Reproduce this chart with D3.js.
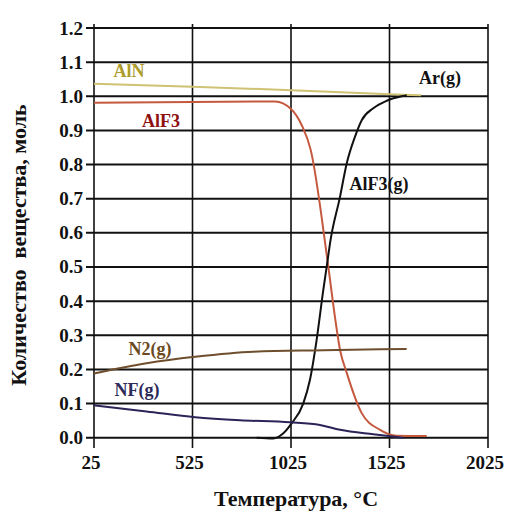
<!DOCTYPE html>
<html>
<head>
<meta charset="utf-8">
<script src="https://cdn.jsdelivr.net/npm/d3@7"></script>
<style>
  body { margin: 0; background: #fff; }
</style>
</head>
<body>
<div id="chart"></div>
<script>
// temperatures (°C) and amounts (mol)
var alnT = [25, 525, 1025, 1525, 1685];
var alnV = [1.037, 1.028, 1.018, 1.006, 1.003];

var alf3T = [25, 944, 1025, 1079, 1125, 1210, 1248, 1274, 1308, 1384, 1477, 1561, 1714];
var alf3V = [0.981, 0.985, 0.963, 0.916, 0.843, 0.52, 0.354, 0.257, 0.19, 0.072, 0.023, 0.006, 0.005];

var alf3gT = [851, 935, 986, 1028, 1087, 1121, 1155, 1189, 1211, 1223, 1274, 1308, 1350, 1384, 1443, 1511, 1595, 1612];
var alf3gV = [0.0, -0.002, 0.013, 0.042, 0.1, 0.169, 0.286, 0.433, 0.52, 0.569, 0.706, 0.804, 0.882, 0.93, 0.965, 0.987, 1.001, 1.003];

var n2T = [25, 292, 538, 834, 1188, 1612];
var n2V = [0.188, 0.218, 0.237, 0.252, 0.256, 0.26];

var nfT = [25, 292, 538, 766, 1020, 1172, 1274, 1443, 1595];
var nfV = [0.095, 0.077, 0.06, 0.051, 0.045, 0.037, 0.023, 0.01, 0.0];

var xTicks = [25, 525, 1025, 1525, 2025];
var yTicks = [0, 0.1, 0.2, 0.3, 0.4, 0.5, 0.6, 0.7, 0.8, 0.9, 1.0, 1.1, 1.2];

var series = [
  { name: "AlN", t: alnT, v: alnV, color: "#cfc273", label: "#ad9c2c", lx: 129, ly: 77 },
  { name: "AlF3", t: alf3T, v: alf3V, color: "#c4593e", label: "#8e1010", lx: 161, ly: 127 },
  { name: "AlF3(g)", t: alf3gT, v: alf3gV, color: "#111", label: "#111", lx: 379, ly: 190 },
  { name: "N2(g)", t: n2T, v: n2V, color: "#6e4e2c", label: "#6b4a22", lx: 150, ly: 355 },
  { name: "NF(g)", t: nfT, v: nfV, color: "#2c2358", label: "#2c2a58", lx: 137, ly: 396 }
];

var FONT = "'Liberation Serif', 'Times New Roman', Times, serif";
var W = 505, H = 511;
var svg = d3.select("#chart").append("svg")
  .attr("width", W)
  .attr("height", H)
  .attr("font-family", FONT)
  .attr("font-weight", "bold");

var x = d3.scaleLinear().domain([25, 2025]).range([94, 488]);
var y = d3.scaleLinear().domain([0, 1.2]).range([437.7, 28]);

// grid
svg.append("g").selectAll("line")
  .data(yTicks)
  .enter().append("line")
  .attr("x1", 86).attr("x2", x(2025))
  .attr("y1", function(d) { return y(d); })
  .attr("y2", function(d) { return y(d); })
  .attr("stroke", "#111")
  .attr("stroke-width", 2);

svg.append("g").selectAll("line")
  .data(xTicks)
  .enter().append("line")
  .attr("x1", function(d) { return x(d); })
  .attr("x2", function(d) { return x(d); })
  .attr("y1", 24).attr("y2", 448)
  .attr("stroke", "#111")
  .attr("stroke-width", 1.6);

// tick labels
svg.append("g").selectAll("text")
  .data(yTicks)
  .enter().append("text")
  .attr("x", 83)
  .attr("y", function(d) { return y(d) + 6.5; })
  .attr("text-anchor", "end")
  .attr("font-size", 19)
  .attr("fill", "#111")
  .text(function(d) { return d3.format(".1f")(d); });

svg.append("g").selectAll("text")
  .data(xTicks)
  .enter().append("text")
  .attr("x", function(d) { return x(d) - 3; })
  .attr("y", 469)
  .attr("text-anchor", "middle")
  .attr("font-size", 19)
  .attr("fill", "#111")
  .text(function(d) { return d; });

// curves
var line = d3.line()
  .x(function(d) { return x(d[0]); })
  .y(function(d) { return y(d[1]); })
  .curve(d3.curveMonotoneX);

series.forEach(function(s) {
  var pts = s.t.map(function(t, i) { return [t, s.v[i]]; });
  svg.append("path")
    .datum(pts)
    .attr("d", line)
    .attr("fill", "none")
    .attr("stroke", s.color)
    .attr("stroke-width", 2);
  svg.append("text")
    .attr("x", s.lx)
    .attr("y", s.ly)
    .attr("text-anchor", "middle")
    .attr("font-size", 18)
    .attr("fill", s.label)
    .text(s.name);
});

svg.append("text")
  .attr("x", 440)
  .attr("y", 84)
  .attr("text-anchor", "middle")
  .attr("font-size", 18)
  .attr("fill", "#111")
  .text("Ar(g)");

// axis titles
svg.append("text")
  .attr("x", 296)
  .attr("y", 506)
  .attr("text-anchor", "middle")
  .attr("font-size", 22)
  .attr("fill", "#111")
  .text("Температура, °C");

svg.append("text")
  .attr("transform", "translate(26,245) rotate(-90)")
  .attr("text-anchor", "middle")
  .attr("font-size", 22)
  .attr("fill", "#111")
  .style("white-space", "pre")
  .text("Количество  вещества, моль");
</script>
</body>
</html>
